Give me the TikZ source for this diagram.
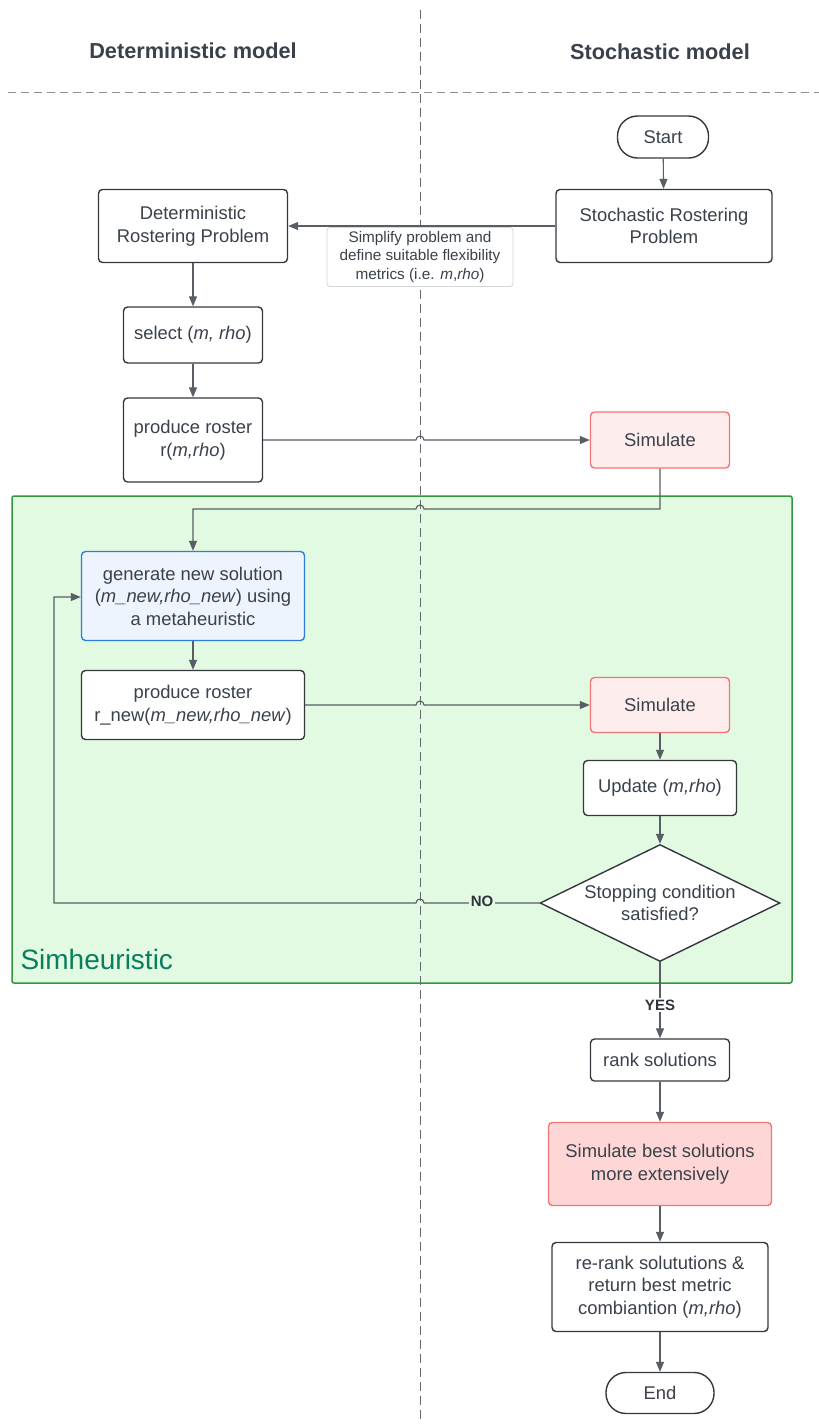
\documentclass[tikz,border=0pt]{standalone}
\usepackage{fontspec}
\setmainfont{Liberation Sans}
\usetikzlibrary{arrows.meta,shapes.geometric,backgrounds}

\definecolor{ink}{RGB}{58,65,74}
\definecolor{boxline}{RGB}{52,56,62}
\definecolor{wire}{RGB}{88,94,100}
\definecolor{lanegrey}{RGB}{100,104,110}
\definecolor{simfill}{RGB}{226,250,226}
\definecolor{simline}{RGB}{52,150,62}
\definecolor{simtext}{RGB}{10,125,95}
\definecolor{bluefill}{RGB}{237,244,254}
\definecolor{blueline}{RGB}{45,125,225}
\definecolor{pinkfill}{RGB}{254,237,237}
\definecolor{pinkdeep}{RGB}{254,214,214}
\definecolor{pinkline}{RGB}{240,118,118}
\definecolor{notegrey}{RGB}{212,214,216}

\begin{document}
\begin{tikzpicture}[x=1pt,y=-1pt,
  txt/.style={text=ink, align=center, font=\fontsize{18.4}{22.5}\selectfont},
  box/.style={txt, draw=boxline, line width=1.4pt, rounded corners=4pt,
    fill=white, inner sep=0pt},
  pill/.style={box, rounded corners=20pt},
  simbox/.style={box, draw=pinkline, fill=pinkfill},
  conn/.style={draw=wire, line width=1.1pt,
    -{Triangle[length=10pt,width=8pt]}},
  header/.style={text=ink, font=\bfseries\fontsize{21.7}{26}\selectfont},
  tag/.style={text=ink!80!black, font=\bfseries\fontsize{15}{18}\selectfont,
    inner sep=1.5pt}
]
\useasboundingbox (0,0) rectangle (819,1425);

% column headers
\node[header] (hdet) at (193,51) {Deterministic model};
\node[header] (hsto) at (660,52) {Stochastic model};

% top part of the flow
\node[pill, minimum width=91pt, minimum height=42pt] (start) at (663,137) {Start};
\node[box, minimum width=216pt, minimum height=73pt] (srp) at (664,226)
  {Stochastic Rostering\\Problem};
\node[box, minimum width=189pt, minimum height=73pt] (drp) at (193,226)
  {Deterministic\\Rostering Problem};
\node[box, minimum width=139pt, minimum height=56pt] (sel) at (193,335)
  {select (\textit{m, rho})};
\node[box, minimum width=139pt, minimum height=84pt] (prod) at (193,440)
  {produce roster\\r(\textit{m,rho})};
\node[simbox, minimum width=139pt, minimum height=56pt] (simA) at (660,440)
  {Simulate};

% simheuristic loop
\node[box, draw=blueline, fill=bluefill, minimum width=223pt, minimum height=89pt]
  (gen) at (193,596)
  {generate new solution\\(\textit{m\_new,rho\_new}) using\\a metaheuristic};
\node[box, minimum width=223pt, minimum height=69pt] (prodnew) at (193,705)
  {produce roster\\r\_new(\textit{m\_new,rho\_new})};
\node[simbox, minimum width=139pt, minimum height=55pt] (simB) at (660,705)
  {Simulate};
\node[box, minimum width=153pt, minimum height=55pt] (upd) at (660,788)
  {Update (\textit{m,rho})};
\node[txt, diamond, draw=boxline, line width=1.4pt, fill=white, inner sep=0pt,
  aspect=2.05, minimum width=240pt, minimum height=117pt] (stop) at (660,903)
  {Stopping condition\\satisfied?};

% final stage
\node[box, minimum width=139pt, minimum height=42pt] (rank) at (660,1060)
  {rank solutions};
\node[simbox, fill=pinkdeep, minimum width=223pt, minimum height=83pt] (simbest)
  at (660,1164) {Simulate best solutions\\more extensively};
\node[box, minimum width=216pt, minimum height=89pt] (rerank) at (660,1287)
  {re-rank solututions \&\\return best metric\\combiantion (\textit{m,rho})};
\node[pill, minimum width=108pt, minimum height=41pt] (end) at (660,1393) {End};

% annotation on the simplification step
\node[txt, draw=notegrey, line width=0.8pt, rounded corners=3pt, fill=white,
  inner sep=0pt, minimum width=186pt, minimum height=59pt,
  font=\fontsize{15.3}{18.5}\selectfont] (note) at (420,257)
  {Simplify problem and\\define suitable flexibility\\metrics (i.e. \textit{m},\textit{rho})};

\node[text=simtext, anchor=west, font=\fontsize{28}{32}\selectfont] (simlabel)
  at (17,959) {Simheuristic};

% background: loop region and swimlane separators
\begin{pgfonlayer}{background}
  \fill[white] (0,0) rectangle (819,1425);
  \draw[simline, fill=simfill, line width=1.5pt, rounded corners=2pt]
    (12,496) rectangle (792,983);
  \draw[lanegrey, line width=0.9pt, dash pattern=on 9pt off 5pt]
    (420,10) -- (420,1420);
  \draw[lanegrey!75, line width=0.9pt, dash pattern=on 8pt off 5pt]
    (8,92) -- (819,92);
\end{pgfonlayer}

% connectors
\draw[conn] (start) -- (srp);
\draw[conn] (srp) -- (drp);
\draw[conn] (drp) -- (sel);
\draw[conn] (sel) -- (prod);
\draw[conn] (prod.east) -- (416,440)
  arc[start angle=180, end angle=360, radius=4] -- (simA.west);
\draw[conn] (simA.south) -- (660,509) -- (424,509)
  arc[start angle=0, end angle=-180, radius=4] -- (193,509) -- (gen.north);
\draw[conn] (gen) -- (prodnew);
\draw[conn] (prodnew.east) -- (416,705)
  arc[start angle=180, end angle=360, radius=4] -- (simB.west);
\draw[conn] (simB) -- (upd);
\draw[conn] (upd) -- (stop.north);
\draw[conn] (stop.west) -- (424,903)
  arc[start angle=0, end angle=-180, radius=4] -- (54,903) -- (54,597) -- (gen.west |- 54,597);
\draw[conn] (stop.south) -- (rank.north);
\draw[conn] (rank) -- (simbest);
\draw[conn] (simbest) -- (rerank);
\draw[conn] (rerank) -- (end);

% branch labels
\node[tag, fill=simfill] (no) at (482,901) {NO};
\node[tag, fill=white] (yes) at (660,1005) {YES};
\end{tikzpicture}
\end{document}
